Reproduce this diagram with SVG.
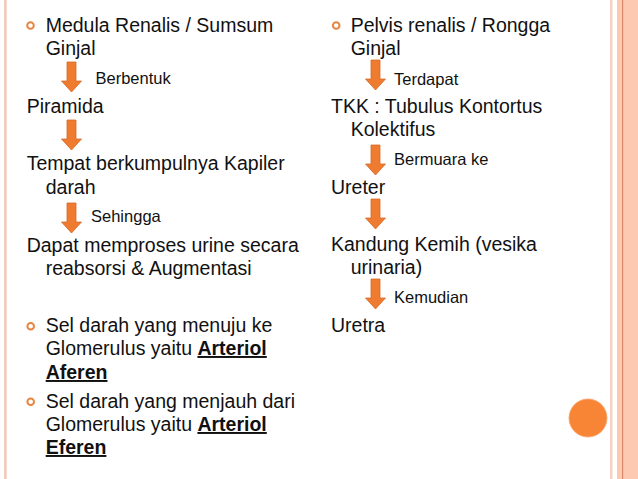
<svg xmlns="http://www.w3.org/2000/svg" width="638" height="479" viewBox="0 0 638 479">
<defs>
<style>
.t{font-family:"Liberation Sans",Arial,sans-serif;font-size:19.5px;fill:#111}
.l{font-family:"Liberation Sans",Arial,sans-serif;font-size:16.5px;fill:#111}
.b{font-weight:bold;text-decoration:underline}
.bul{fill:none;stroke:#e8843f;stroke-width:2}
.arr{fill:#ef7b30;stroke:#d56a28;stroke-width:0.8}
</style>
<path id="a" d="M-4.5,0 H4.5 V19 H10 L0,30 L-10,19 H-4.5 Z"/>
</defs>
<rect width="638" height="479" fill="#fff"/>
<rect x="4" y="0" width="2.7" height="479" fill="#f2cbbd"/>
<rect x="610" y="0" width="2.5" height="479" fill="#f5d2c4"/>
<rect x="617" y="0" width="21" height="479" fill="#fdc9b1"/>
<rect x="622" y="0" width="1.2" height="479" fill="#d9876a"/>
<circle cx="588" cy="418" r="19" fill="#f78535" stroke="#f9a36c" stroke-width="0.8"/>

<g id="connectors">
<use href="#a" class="arr" x="71.5" y="62"/>
<use href="#a" class="arr" x="71.5" y="120"/>
<use href="#a" class="arr" x="71.5" y="203"/>
<use href="#a" class="arr" x="375.5" y="60"/>
<use href="#a" class="arr" x="375.5" y="145"/>
<use href="#a" class="arr" x="375.5" y="199"/>
<use href="#a" class="arr" x="375.5" y="279"/>
<text class="l" x="95.5" y="84">Berbentuk</text>
<text class="l" x="91" y="221.5">Sehingga</text>
<text class="l" x="394" y="85">Terdapat</text>
<text class="l" x="394" y="165">Bermuara ke</text>
<text class="l" x="394" y="303">Kemudian</text>
</g>

<g id="medula">
<circle class="bul" cx="30.5" cy="25.5" r="3.3"/>
<text class="t" x="45.7" y="32.3">Medula Renalis / Sumsum</text>
<text class="t" x="45.7" y="54.5">Ginjal</text>
</g>
<g id="piramida"><text class="t" x="26.7" y="112.7">Piramida</text></g>
<g id="tempat">
<text class="t" x="26.7" y="170">Tempat berkumpulnya Kapiler</text>
<text class="t" x="45.7" y="194">darah</text>
</g>
<g id="dapat">
<text class="t" x="26.7" y="251.7">Dapat memproses urine secara</text>
<text class="t" x="45.7" y="275">reabsorsi &amp; Augmentasi</text>
</g>
<g id="sel1">
<circle class="bul" cx="30.7" cy="326.3" r="3.3"/>
<text class="t" x="45.7" y="332.3">Sel darah yang menuju ke</text>
<text class="t" x="45.7" y="355">Glomerulus yaitu <tspan class="b">Arteriol</tspan></text>
<text class="t b" x="45.7" y="379">Aferen</text>
</g>
<g id="sel2">
<circle class="bul" cx="30.7" cy="401.7" r="3.3"/>
<text class="t" x="45.7" y="408.3">Sel darah yang menjauh dari</text>
<text class="t" x="45.7" y="431">Glomerulus yaitu <tspan class="b">Arteriol</tspan></text>
<text class="t b" x="45.7" y="454">Eferen</text>
</g>

<g id="pelvis">
<circle class="bul" cx="336.2" cy="25.5" r="3.3"/>
<text class="t" x="350.7" y="32.3">Pelvis renalis / Rongga</text>
<text class="t" x="350.7" y="54.5">Ginjal</text>
</g>
<g id="tkk">
<text class="t" x="331" y="113">TKK : Tubulus Kontortus</text>
<text class="t" x="350.7" y="136">Kolektifus</text>
</g>
<g id="ureter"><text class="t" x="331" y="194">Ureter</text></g>
<g id="kandung">
<text class="t" x="331" y="250.7">Kandung Kemih (vesika</text>
<text class="t" x="350.7" y="274">urinaria)</text>
</g>
<g id="uretra"><text class="t" x="331" y="332.3">Uretra</text></g>
</svg>
